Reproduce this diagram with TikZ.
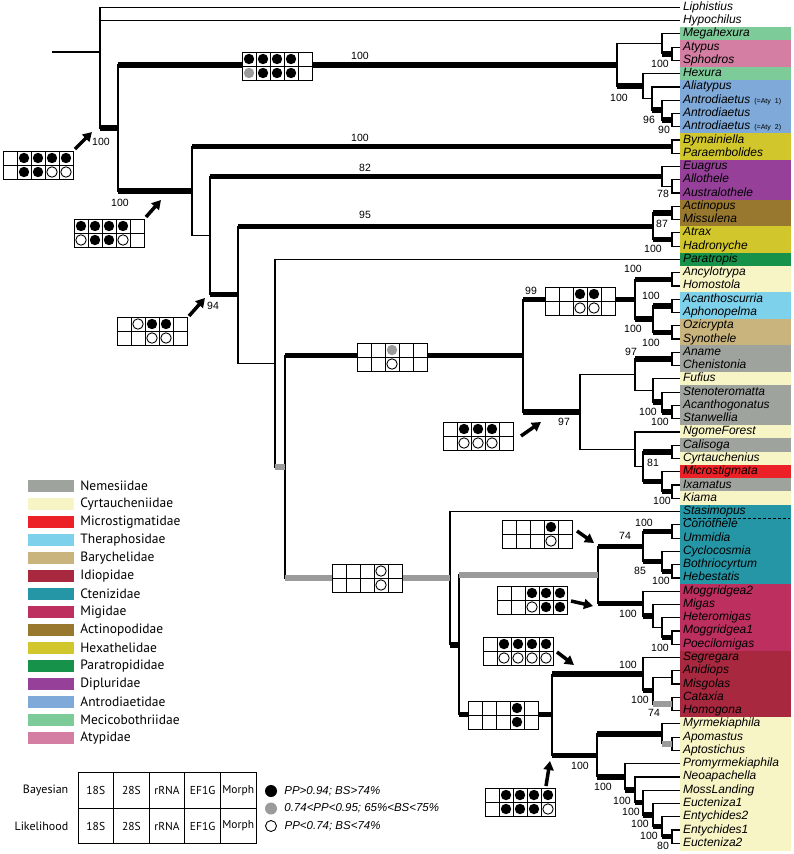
\documentclass[tikz,border=0pt]{standalone}
\usepackage{fontspec}
\setmainfont{Liberation Sans}
\newfontfamily\legfont{PT Sans}
\usetikzlibrary{arrows.meta,positioning,calc}

\definecolor{famNem}{HTML}{9EA39D}
\definecolor{famCyr}{HTML}{F7F4C5}
\definecolor{famMic}{HTML}{EC2027}
\definecolor{famThe}{HTML}{7DD1EA}
\definecolor{famBar}{HTML}{C9B47D}
\definecolor{famIdi}{HTML}{A82840}
\definecolor{famCte}{HTML}{2596A6}
\definecolor{famMig}{HTML}{BD2F5E}
\definecolor{famAct}{HTML}{98782F}
\definecolor{famHex}{HTML}{D1C72C}
\definecolor{famPar}{HTML}{16924A}
\definecolor{famDip}{HTML}{96409A}
\definecolor{famAnt}{HTML}{7EA9D8}
\definecolor{famMec}{HTML}{7ECB9A}
\definecolor{famAty}{HTML}{D37EA2}
\definecolor{suppgray}{HTML}{9B9B9B}

\newcommand{\aty}[1]{{\fontsize{7}{8}\selectfont\upshape #1}}
% support box: name, top left corner, upper row, lower row
\newcommand{\suppbox}[4]{%
  \node[sbox, anchor=north west] (#1) at (#2) {};
  \foreach \k in {1,...,4}
    \draw[cellline] ($(#1.north west)+(14*\k,0)$) -- ($(#1.south west)+(14*\k,0)$);
  \draw[cellline] (#1.west) -- (#1.east);
  \foreach \cc [count=\k] in {#3}
    \path[\cc] ($(#1.north west)+(14*\k-7,7)$) circle[radius=5.2pt];
  \foreach \cc [count=\k] in {#4}
    \path[\cc] ($(#1.north west)+(14*\k-7,21)$) circle[radius=5.2pt];
}

\begin{document}
\begin{tikzpicture}[x=1pt, y=-1pt,
    br/.style={line width=1.2pt},
    thk/.style={line width=5.5pt},
    gthk/.style={line width=5.5pt, draw=suppgray},
    tip/.style={anchor=west, text width=104pt, align=left, inner xsep=3pt, inner ysep=0pt, outer sep=0pt,
      minimum height=13.27pt, text height=8.6pt, text depth=2.6pt, line width=0.4pt,
      font=\fontsize{12}{13}\selectfont\itshape},
    bs/.style={font=\fontsize{10.5}{11}\selectfont, inner sep=0pt},
    sbox/.style={rectangle, draw, fill=white, line width=1pt, minimum width=70pt, minimum height=28pt, inner sep=0pt, outer sep=0pt},
    cellline/.style={line width=1pt},
    dotk/.style={fill=black},
    dotg/.style={fill=suppgray},
    doto/.style={draw=black, fill=white, line width=0.9pt},
    dotn/.style={},
    supparrow/.style={-{Triangle[length=9pt, width=10pt]}, line width=3.5pt},
    swatch/.style={rectangle, minimum width=46pt, minimum height=12pt, inner sep=0pt},
    famtxt/.style={font=\legfont\fontsize{13.5}{15}\selectfont, inner sep=0pt},
    tcell/.style={rectangle, draw, line width=1pt, minimum width=35.6pt, minimum height=35.5pt, inner sep=0pt,
      font=\legfont\fontsize{11.5}{13}\selectfont},
    rowlbl/.style={font=\legfont\fontsize{12}{14}\selectfont, inner sep=0pt},
    legdot/.style={circle, minimum size=12pt, inner sep=0pt},
    dottxt/.style={font=\fontsize{11.5}{13}\selectfont\itshape, inner sep=0pt}
]
\useasboundingbox (0,0) rectangle (793,854);

% Taxa with family colours
\foreach \nm/\fc/\tx [count=\ix from 0] in {
    liph/none/Liphistius, hypo/none/Hypochilus, megah/famMec/Megahexura,
    atypus/famAty/Atypus, sphod/famAty/Sphodros, hexura/famMec/Hexura,
    aliat/famAnt/Aliatypus, antroA/famAnt/{Antrodiaetus \aty{(=Aty 1)}},
    antroB/famAnt/Antrodiaetus, antroC/famAnt/{Antrodiaetus \aty{(=Aty 2)}},
    bymai/famHex/Bymainiella, paraem/famHex/Paraembolides,
    euag/famDip/Euagrus, allo/famDip/Allothele, austr/famDip/Australothele,
    actino/famAct/Actinopus, missu/famAct/Missulena,
    atrax/famHex/Atrax, hadro/famHex/Hadronyche, parat/famPar/Paratropis,
    ancyl/famCyr/Ancylotrypa, homos/famCyr/Homostola,
    acant/famThe/Acanthoscurria, aphon/famThe/Aphonopelma,
    ozicr/famBar/Ozicrypta, synot/famBar/Synothele,
    aname/famNem/Aname, chen/famNem/Chenistonia, fufius/famCyr/Fufius,
    steno/famNem/Stenoteromatta, acgon/famNem/Acanthogonatus, stanw/famNem/Stanwellia,
    ngome/famCyr/NgomeForest, calis/famNem/Calisoga, cyrta/famCyr/Cyrtauchenius,
    micros/famMic/Microstigmata, ixam/famNem/Ixamatus, kiama/famCyr/Kiama,
    stasi/famCte/Stasimopus, cono/famCte/Conothele, ummi/famCte/Ummidia,
    cyclo/famCte/Cyclocosmia, bothr/famCte/Bothriocyrtum, hebes/famCte/Hebestatis,
    moggB/famMig/Moggridgea2, migas/famMig/Migas, heter/famMig/Heteromigas,
    moggA/famMig/Moggridgea1, poeci/famMig/Poecilomigas,
    segre/famIdi/Segregara, anidi/famIdi/Anidiops, misgo/famIdi/Misgolas,
    catax/famIdi/Cataxia, homog/famIdi/Homogona,
    myrme/famCyr/Myrmekiaphila, apoma/famCyr/Apomastus, aptos/famCyr/Aptostichus,
    promy/famCyr/Promyrmekiaphila, neoap/famCyr/Neoapachella, mossl/famCyr/MossLanding,
    euctA/famCyr/Eucteniza1, entyB/famCyr/Entychides2, entyA/famCyr/Entychides1,
    euctB/famCyr/Eucteniza2}
  \node[tip, fill=\fc, draw=\fc] (\nm) at (680, 7.3+13.27*\ix) {\tx};
\draw[line width=1pt, dash pattern=on 3pt off 2pt] ([xshift=3pt]stasi.south west) -- (stasi.south east);

% Clades
\coordinate (stem) at (52,52);
\coordinate (cRoot) at (100,52);
\coordinate (cMyg) at (118,128.04);
\coordinate (cAtypo) at (617,64.95);
\coordinate (cMega) at (662,43.8);
\coordinate (cAtSp) at (672,53.75);
\coordinate (cHex) at (643,86.09);
\coordinate (cAnt1) at (652,98.53);
\coordinate (cAnt2) at (662,110.14);
\coordinate (cAnt3) at (672,120.1);
\coordinate (cG2) at (192,191.13);
\coordinate (cBym) at (672,146.64);
\coordinate (cG3) at (210,235.61);
\coordinate (cDip) at (662,176.5);
\coordinate (cDipb) at (672,186.45);
\coordinate (cG4) at (238,294.72);
\coordinate (cAH) at (653,226.26);
\coordinate (cActn) at (672,212.99);
\coordinate (cAtrx) at (672,239.53);
\coordinate (cG5) at (275,363.18);
\coordinate (cG6) at (285,466.93);
\coordinate (cNem) at (523,355.64);
\coordinate (cT99) at (635,299.25);
\coordinate (cAncy) at (672,279.34);
\coordinate (cTB) at (653,319.15);
\coordinate (cThr) at (672,305.88);
\coordinate (cBry) at (672,332.42);
\coordinate (cN97) at (580,412.04);
\coordinate (cAnm97) at (635,374.72);
\coordinate (cAnm) at (672,358.96);
\coordinate (cFuf) at (653,390.47);
\coordinate (cStn) at (662,402.08);
\coordinate (cStw) at (672,412.04);
\coordinate (cNgm) at (635,449.36);
\coordinate (cN81) at (643,466.78);
\coordinate (cCal) at (672,451.85);
\coordinate (cMic) at (662,481.7);
\coordinate (cIxa) at (672,491.66);
\coordinate (cL1) at (450,578.21);
\coordinate (cL2) at (459,644.86);
\coordinate (cCM) at (598,575.01);
\coordinate (cCtn) at (643,546.4);
\coordinate (cCon) at (672,531.47);
\coordinate (cCyc) at (662,561.32);
\coordinate (cBot) at (672,571.28);
\coordinate (cMgd) at (643,603.62);
\coordinate (cMgs) at (653,616.06);
\coordinate (cHet) at (662,627.67);
\coordinate (cMg1) at (672,637.63);
\coordinate (cL3) at (552,714.71);
\coordinate (cIdi) at (643,674.12);
\coordinate (cIdi2) at (653,690.71);
\coordinate (cAnid) at (672,677.44);
\coordinate (cCatx) at (672,703.98);
\coordinate (cEuc) at (597,755.3);
\coordinate (cMyr) at (662,733.84);
\coordinate (cApo) at (672,743.79);
\coordinate (cE3) at (625,776.75);
\coordinate (cE4) at (635,789.82);
\coordinate (cE5) at (643,802.67);
\coordinate (cE6) at (653,815.11);
\coordinate (cE7) at (662,826.72);
\coordinate (cE8) at (672,836.68);

% Branches
\draw[br] (stem) -- (cRoot);
\foreach \pa/\ch in {cRoot/cMyg, cMyg/cAtypo, cMyg/cG2, cAtypo/cMega, cAtypo/cHex, cMega/cAtSp,
    cHex/cAnt1, cAnt1/cAnt2, cAnt2/cAnt3, cG2/cBym, cG2/cG3, cG3/cDip, cG3/cG4, cDip/cDipb,
    cG4/cAH, cG4/cG5, cAH/cActn, cAH/cAtrx, cG5/cG6, cG6/cNem, cG6/cL1, cNem/cT99, cNem/cN97,
    cT99/cAncy, cT99/cTB, cTB/cThr, cTB/cBry, cN97/cAnm97, cN97/cNgm, cAnm97/cAnm, cAnm97/cFuf,
    cFuf/cStn, cStn/cStw, cNgm/cN81, cN81/cCal, cN81/cMic, cMic/cIxa, cL1/cL2, cL2/cCM, cL2/cL3,
    cCM/cCtn, cCM/cMgd, cCtn/cCon, cCtn/cCyc, cCyc/cBot, cMgd/cMgs, cMgs/cHet, cHet/cMg1,
    cL3/cIdi, cL3/cEuc, cIdi/cIdi2, cIdi2/cAnid, cIdi2/cCatx, cEuc/cMyr, cEuc/cE3, cMyr/cApo,
    cE3/cE4, cE4/cE5, cE5/cE6, cE6/cE7, cE7/cE8}
  \draw[br] (\pa) |- (\ch);
\foreach \pa/\ch in {cRoot/liph, cRoot/hypo, cMega/megah, cAtSp/atypus, cAtSp/sphod, cHex/hexura,
    cAnt1/aliat, cAnt2/antroA, cAnt3/antroB, cAnt3/antroC, cBym/bymai, cBym/paraem, cDip/euag,
    cDipb/allo, cDipb/austr, cActn/actino, cActn/missu, cAtrx/atrax, cAtrx/hadro, cG5/parat,
    cAncy/ancyl, cAncy/homos, cThr/acant, cThr/aphon, cBry/ozicr, cBry/synot, cAnm/aname,
    cAnm/chen, cFuf/fufius, cStn/steno, cStw/acgon, cStw/stanw, cNgm/ngome, cCal/calis,
    cCal/cyrta, cMic/micros, cIxa/ixam, cIxa/kiama, cL1/stasi, cCon/cono, cCon/ummi,
    cCyc/cyclo, cBot/bothr, cBot/hebes, cMgd/moggB, cMgs/migas, cHet/heter, cMg1/moggA,
    cMg1/poeci, cIdi/segre, cAnid/anidi, cAnid/misgo, cCatx/catax, cCatx/homog, cMyr/myrme,
    cApo/apoma, cApo/aptos, cE3/promy, cE4/neoap, cE5/mossl, cE6/euctA, cE7/entyB,
    cE8/entyA, cE8/euctB}
  \draw[br] (\pa) |- (\ch.west);
% well supported branches
\foreach \pa/\ch in {cRoot/cMyg, cMyg/cAtypo, cMyg/cG2, cAtypo/cHex, cMega/cAtSp, cAnt1/cAnt2,
    cAnt2/cAnt3, cG2/cBym, cG3/cDip, cG3/cG4, cG4/cAH, cAH/cActn, cAH/cAtrx, cG6/cNem,
    cNem/cT99, cNem/cN97, cT99/cAncy, cT99/cTB, cTB/cThr, cTB/cBry, cAnm97/cAnm, cFuf/cStn,
    cStn/cStw, cN81/cCal, cN81/cMic, cMic/cIxa, cL1/cL2, cL2/cL3, cCM/cCtn, cCM/cMgd,
    cCtn/cCon, cCtn/cCyc, cCyc/cBot, cMgd/cMgs, cHet/cMg1, cL3/cIdi, cL3/cEuc, cIdi/cIdi2,
    cEuc/cMyr, cEuc/cE3, cE3/cE4, cE4/cE5, cE5/cE6, cE6/cE7, cE7/cE8}
  \draw[thk] (\pa |- \ch) -- (\ch);
\foreach \pa/\ch in {cG5/cG6, cG6/cL1, cL2/cCM, cIdi2/cCatx, cMyr/cApo}
  \draw[gthk] (\pa |- \ch) -- (\ch);

% Bootstrap values
\foreach \x/\y/\v [count=\k] in {101/142/100, 120/203/100, 360/56/100, 660/64/100, 619/98/100,
    649/120/96, 664/130/90, 360/138/100, 365/168/82, 663/194/78, 365/215/95, 662/224/87,
    653/249/100, 213/306/94, 531/291/99, 564/422/97, 633/269/100, 651/296/100, 633/329/100,
    651/343/100, 631/352/97, 648/412/100, 660/422/100, 653/463/81, 662/501/100, 644/523/100,
    625/536/74, 640/571/85, 661/581/100, 628/614/100, 660/648/100, 628/665/100, 640/700/100,
    654/713/74, 580/766/100, 603/787/100, 622/801/100, 631/812/100, 640/824/100, 649/836/100,
    663/846/80}
  \node[bs] (bs\k) at (\x,\y) {\v};

% Partition support boxes
\suppbox{bxMyg}{3,151}{dotn,dotk,dotk,dotk,dotk}{dotn,dotk,dotk,doto,doto}
\suppbox{bxG2}{74,219}{dotk,dotk,dotk,dotk,dotn}{doto,dotk,dotk,doto,dotn}
\suppbox{bxAtypo}{242,52}{dotk,dotk,dotk,dotk,dotn}{dotg,dotk,dotk,dotk,dotn}
\suppbox{bxG4}{117,317}{dotn,doto,dotk,dotk,dotn}{dotn,dotn,doto,doto,dotn}
\suppbox{bxNem}{357,343}{dotn,dotn,dotg,dotn,dotn}{dotn,dotn,doto,dotn,dotn}
\suppbox{bxT99}{545,287}{dotn,dotn,dotk,dotk,dotn}{dotn,dotn,doto,doto,dotn}
\suppbox{bxN97}{443,422}{dotn,dotk,dotk,dotk,dotn}{dotn,doto,doto,doto,dotn}
\suppbox{bxL1}{332,564}{dotn,dotn,dotn,doto,dotn}{dotn,dotn,dotn,doto,dotn}
\suppbox{bxCtn}{502,520}{dotn,dotn,dotn,dotk,dotn}{dotn,dotn,dotn,doto,dotn}
\suppbox{bxMgd}{497,586}{dotn,dotn,dotk,dotk,dotk}{dotn,dotn,doto,dotk,dotk}
\suppbox{bxIdi}{483,637}{dotn,dotk,dotk,dotk,dotk}{dotn,doto,doto,doto,doto}
\suppbox{bxL3}{468,701}{dotn,dotn,dotn,dotk,dotn}{dotn,dotn,dotn,dotk,dotn}
\suppbox{bxEuc}{485,788}{dotn,dotk,dotk,dotk,dotk}{dotn,dotk,dotk,dotk,doto}

% Arrows from boxes to branches
\foreach \nm/\sx/\sy/\ex/\ey in {aMyg/75/149/92/132, aG2/146/217/161/200, aG4/189/316/205/298,
    aN97/521/436/541/422, aCtn/577/531/594/543, aMgd/571/601/593/606, aIdi/557/652/574/665,
    aEuc/546/786/550/761} {
  \coordinate (\nm S) at (\sx,\sy);
  \coordinate (\nm E) at (\ex,\ey);
  \draw[supparrow] (\nm S) -- (\nm E);
}

% Family legend
\foreach \fname/\col [count=\k from 0] in {Nemesiidae/famNem, Cyrtaucheniidae/famCyr,
    Microstigmatidae/famMic, Theraphosidae/famThe, Barychelidae/famBar, Idiopidae/famIdi,
    Ctenizidae/famCte, Migidae/famMig, Actinopodidae/famAct, Hexathelidae/famHex,
    Paratropididae/famPar, Dipluridae/famDip, Antrodiaetidae/famAnt, Mecicobothriidae/famMec,
    Atypidae/famAty} {
  \node[swatch, fill=\col] (sw\k) at (51, 486+18*\k) {};
  \node[famtxt, right=6pt of sw\k] (fn\k) {\fname};
}

% Partition key
\foreach \lbl [count=\k] in {18S,28S,rRNA,EF1G,Morph} {
  \node[tcell] (bay\k) at (60.2+35.6*\k, 790.5) {\lbl};
  \node[tcell] (lik\k) at (60.2+35.6*\k, 826) {\lbl};
}
\node[rowlbl, left=9pt of bay1] (bayl) {Bayesian};
\node[rowlbl, left=9pt of lik1] (likl) {Likelihood};

% Support key
\node[legdot, fill=black] (dk) at (271,791) {};
\node[legdot, fill=suppgray] (dg) at (271,808.5) {};
\node[legdot, draw, fill=white, line width=0.9pt, minimum size=11pt] (dw) at (271,826) {};
\node[dottxt, right=7pt of dk] (tk) {PP>0.94; BS>74\%};
\node[dottxt, right=7pt of dg] (tg) {0.74<PP<0.95; 65\%<BS<75\%};
\node[dottxt, right=7.5pt of dw] (tw) {PP<0.74; BS<74\%};
\end{tikzpicture}
\end{document}
